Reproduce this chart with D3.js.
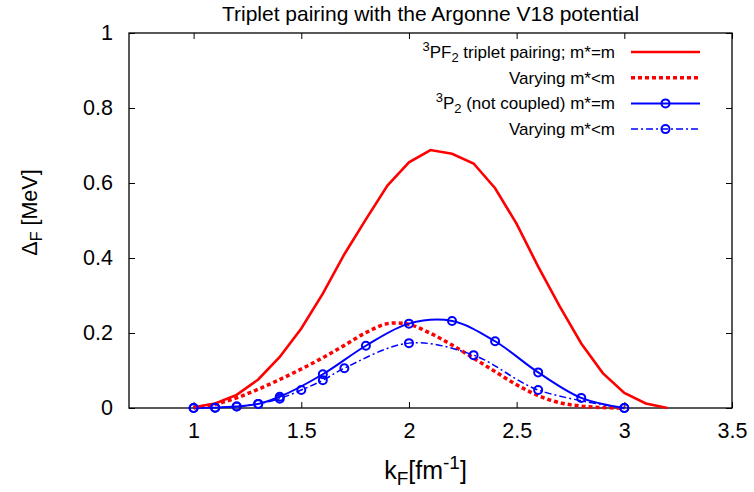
<!DOCTYPE html>
<html><head><meta charset="utf-8">
<script src="https://cdn.jsdelivr.net/npm/d3@7"></script>
<style>body{margin:0;background:#fff}svg{display:block;font-family:"Liberation Sans",Arial,sans-serif}</style>
</head><body><svg id="c" width="754" height="492"></svg>
<script>
const xTicks = [1, 1.5, 2, 2.5, 3, 3.5];
const yTicks = [0, 0.2, 0.4, 0.6, 0.8, 1];

const pf2K = [1.0,1.1,1.2,1.3,1.4,1.5,1.6,1.7,1.8,1.9,2.0,2.1,2.2,2.3,2.4,2.5,2.6,2.7,2.8,2.9,3.0,3.1,3.2];
const pf2V = [0.002,0.012,0.035,0.076,0.136,0.212,0.305,0.41,0.503,0.593,0.655,0.688,0.678,0.652,0.586,0.491,0.377,0.271,0.172,0.093,0.04,0.012,0.0];

const pf2vK = [1.0,1.1,1.2,1.3,1.4,1.5,1.6,1.7,1.8,1.9,2.0,2.1,2.2,2.3,2.4,2.5,2.6,2.7,2.8,2.9,3.0];
const pf2vV = [0.0,0.01,0.027,0.05,0.076,0.104,0.134,0.167,0.201,0.225,0.223,0.199,0.168,0.133,0.097,0.062,0.033,0.014,0.005,0.001,0.0];

const p2K = [1.0,1.1,1.2,1.3,1.4,1.6,1.8,2.0,2.2,2.4,2.6,2.8,3.0];
const p2V = [0.0,0.001,0.004,0.011,0.03,0.09,0.166,0.225,0.232,0.178,0.095,0.027,0.0];

const p2vK = [1.0,1.1,1.2,1.3,1.4,1.5,1.6,1.7,2.0,2.3,2.6,3.0];
const p2vV = [0.0,0.001,0.004,0.011,0.025,0.048,0.074,0.106,0.173,0.141,0.048,0.0];

const svg = d3.select("#c");
const L = 129, R = 732, T = 33, B = 408;
const x = d3.scaleLinear().domain([0.7, 3.5]).range([L, R]);
const y = d3.scaleLinear().domain([0, 1]).range([B, T]);
const RED = "#ff0000", BLUE = "#0000ff";

const fs = 21.5;
const ax = svg.append("g").attr("transform", `translate(0,${B})`)
  .call(d3.axisBottom(x).tickValues(xTicks).tickSize(-6).tickPadding(15).tickFormat(d3.format("")));
const axT = svg.append("g").attr("transform", `translate(0,${T})`)
  .call(d3.axisTop(x).tickValues(xTicks).tickSize(-6).tickFormat(""));
const ay = svg.append("g").attr("transform", `translate(${L},0)`)
  .call(d3.axisLeft(y).tickValues(yTicks).tickSize(-6).tickPadding(16).tickFormat(d3.format("")));
const ayR = svg.append("g").attr("transform", `translate(${R},0)`)
  .call(d3.axisRight(y).tickValues(yTicks).tickSize(-6).tickFormat(""));
[ax, axT, ay, ayR].forEach(g => {
  g.select(".domain").remove();
  g.selectAll("line").attr("stroke", "#000").attr("stroke-width", 1);
  g.selectAll("text").attr("font-size", fs).attr("fill", "#000").attr("font-family", "Liberation Sans, Arial, sans-serif");
});
svg.append("rect").attr("x", L).attr("y", T).attr("width", R - L).attr("height", B - T)
  .attr("fill", "none").attr("stroke", "#000").attr("stroke-width", 1.3);

svg.append("text").attr("x", (L + R) / 2).attr("y", 21).attr("text-anchor", "middle")
  .attr("font-size", 21).text("Triplet pairing with the Argonne V18 potential");

const xl = svg.append("text").attr("x", (L + R) / 2 - 5).attr("y", 479).attr("text-anchor", "middle").attr("font-size", 25);
xl.append("tspan").text("k");
xl.append("tspan").attr("font-size", 19).attr("dy", 6).text("F");
xl.append("tspan").attr("dy", -6).text("[fm");
xl.append("tspan").attr("font-size", 19).attr("dy", -10).text("-1");
xl.append("tspan").attr("dy", 10).text("]");

const yl = svg.append("text").attr("transform", `translate(37,${(T + B) / 2 - 8}) rotate(-90)`)
  .attr("text-anchor", "middle").attr("font-size", 21.5);
yl.append("tspan").text("Δ");
yl.append("tspan").attr("font-size", 16).attr("dy", 5).text("F");
yl.append("tspan").attr("dy", -5).text(" [MeV]");

const plot = svg.append("g");
const lin = d3.line().x(d => x(d[0])).y(d => y(d[1]));
const smooth = d3.line().x(d => x(d[0])).y(d => y(d[1])).curve(d3.curveCatmullRom.alpha(0.5));
const zip = (a, b) => a.map((k, i) => [k, b[i]]);

const dashRed = "4,3", dashDot = "7,3,2,3";

plot.append("path").datum(zip(pf2vK, pf2vV)).attr("d", smooth).attr("fill", "none")
  .attr("stroke", RED).attr("stroke-width", 3.5).attr("stroke-dasharray", dashRed);
plot.append("path").datum(zip(p2vK, p2vV)).attr("d", smooth).attr("fill", "none")
  .attr("stroke", BLUE).attr("stroke-width", 1.5).attr("stroke-dasharray", dashDot);
plot.append("path").datum(zip(p2K, p2V)).attr("d", smooth).attr("fill", "none")
  .attr("stroke", BLUE).attr("stroke-width", 2);
plot.append("path").datum(zip(pf2K, pf2V)).attr("d", lin).attr("fill", "none")
  .attr("stroke", RED).attr("stroke-width", 2.6);

plot.selectAll(".m1").data(zip(p2K, p2V)).enter().append("circle")
  .attr("cx", d => x(d[0])).attr("cy", d => y(d[1])).attr("r", 4)
  .attr("fill", "none").attr("stroke", BLUE).attr("stroke-width", 2);
plot.selectAll(".m2").data(zip(p2vK, p2vV)).enter().append("circle")
  .attr("cx", d => x(d[0])).attr("cy", d => y(d[1])).attr("r", 4)
  .attr("fill", "none").attr("stroke", BLUE).attr("stroke-width", 2);

const legend = [
  {sup: "3", main: "PF", sub: "2", rest: " triplet pairing; m*=m", color: RED, w: 2.6, dash: null, mark: false},
  {main: "Varying m*<m", color: RED, w: 3.5, dash: dashRed, mark: false},
  {sup: "3", main: "P", sub: "2", rest: " (not coupled) m*=m", color: BLUE, w: 2, dash: null, mark: true},
  {main: "Varying m*<m", color: BLUE, w: 1.5, dash: dashDot, mark: true}
];
const lg = svg.append("g");
legend.forEach((e, i) => {
  const yy = 52 + i * 25.7;
  const t = lg.append("text").attr("x", 615).attr("y", yy + 6).attr("text-anchor", "end").attr("font-size", 17);
  if (e.sup) {
    t.append("tspan").attr("font-size", 13).attr("dy", -7).text(e.sup);
    t.append("tspan").attr("dy", 7).text(e.main);
    t.append("tspan").attr("font-size", 13).attr("dy", 4).text(e.sub);
    t.append("tspan").attr("dy", -4).text(e.rest);
  } else t.text(e.main);
  lg.append("line").attr("x1", 631).attr("x2", 700).attr("y1", yy).attr("y2", yy)
    .attr("stroke", e.color).attr("stroke-width", e.w).attr("stroke-dasharray", e.dash);
  if (e.mark) lg.append("circle").attr("cx", 665.5).attr("cy", yy).attr("r", 4)
    .attr("fill", "none").attr("stroke", BLUE).attr("stroke-width", 2);
});
</script></body></html>
